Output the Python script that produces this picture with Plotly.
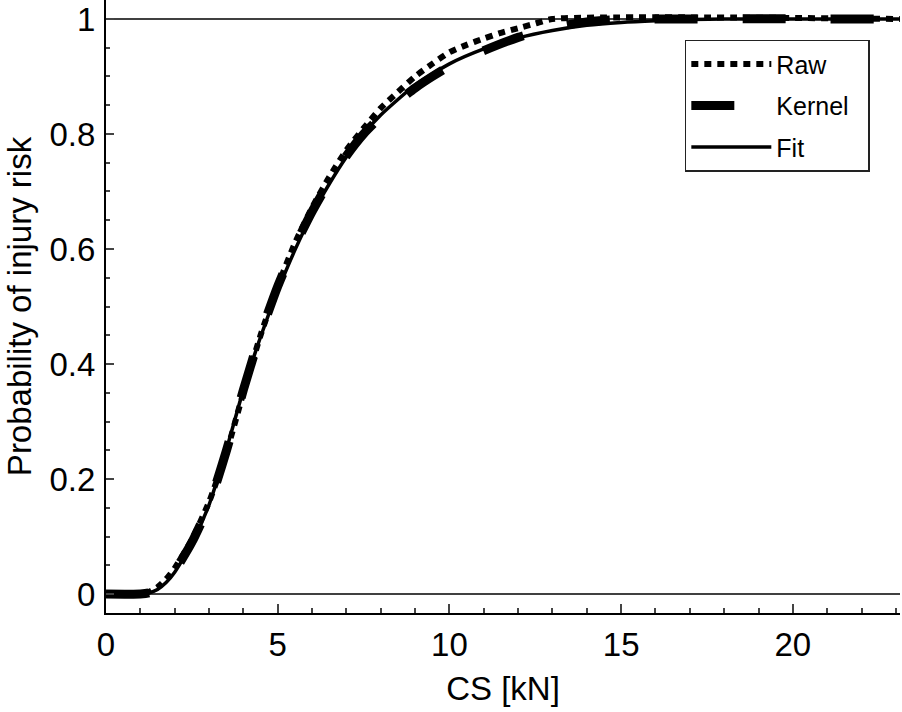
import plotly.graph_objects as go

# ---- data ----
fit_x = [0, 1.0, 1.25, 1.5, 1.75, 2.0, 2.5, 3.0, 3.5, 4.0, 4.5, 5.0, 5.5, 6.0, 6.5, 7.0, 7.5, 8.0,
         9.0, 10.0, 11.0, 12.0, 13.0, 14.0, 15.0, 16.0, 17.0, 18.0, 23.2]
fit_y = [0, 0, 0.002, 0.008, 0.02, 0.038, 0.088, 0.155, 0.25, 0.355, 0.447, 0.527, 0.598, 0.66,
         0.713, 0.76, 0.8, 0.833, 0.885, 0.922, 0.948, 0.967, 0.98, 0.989, 0.994, 0.997, 0.999,
         1.0, 1.0]

raw_x = [0, 1.0, 1.25, 1.5, 1.75, 2.0, 2.5, 3.0, 3.5, 4.0, 4.5, 5.0, 5.5, 6.0, 6.5, 7.0, 7.5, 8.0,
         8.5, 9.0, 9.5, 10.0, 10.5, 11.0, 11.5, 12.0, 12.5, 13.0, 23.2]
raw_y = [0, 0, 0.004, 0.012, 0.026, 0.045, 0.095, 0.16, 0.245, 0.35, 0.45, 0.535, 0.61, 0.672,
         0.725, 0.772, 0.81, 0.845, 0.873, 0.9, 0.922, 0.942, 0.955, 0.966, 0.976, 0.984, 0.992,
         1.0, 1.0]

kernel_x = [0, 1.0, 1.25, 1.5, 1.75, 2.0, 2.5, 3.0, 3.5, 4.0, 4.5, 5.0, 5.5, 6.0, 6.5, 7.0, 7.5,
            8.0, 8.5, 9.0, 9.5, 10.0, 11.0, 12.0, 13.0, 14.0, 15.0, 23.2]
kernel_y = [0, 0, 0.002, 0.008, 0.021, 0.04, 0.09, 0.155, 0.248, 0.355, 0.452, 0.535, 0.605,
            0.665, 0.717, 0.762, 0.8, 0.83, 0.857, 0.88, 0.9, 0.918, 0.945, 0.968, 0.985, 0.995,
            0.999, 1.0]

x_ticks = [0, 5, 10, 15, 20]
y_ticks = [0, 0.2, 0.4, 0.6, 0.8, 1]
y_ticktext = ["0", "0.2", "0.4", "0.6", "0.8", "1"]
series_names = ["Raw", "Kernel\u00a0\u00a0", "Fit"]

FONT = "Arial, Liberation Sans, sans-serif"

fig = go.Figure()
fig.add_trace(go.Scatter(x=kernel_x, y=kernel_y, mode="lines", name=series_names[1],
                         line=dict(color="black", width=9, dash="43px,45px",
                                   shape="spline", smoothing=0.6),
                         legendrank=2, legendgroup="k"))
fig.add_trace(go.Scatter(x=raw_x, y=raw_y, mode="lines", name=series_names[0],
                         line=dict(color="black", width=6, dash="7px,6px",
                                   shape="spline", smoothing=0.6),
                         legendrank=1, legendgroup="r"))
fig.add_trace(go.Scatter(x=fit_x, y=fit_y, mode="lines", name=series_names[2],
                         line=dict(color="black", width=3.5, shape="spline", smoothing=0.6),
                         legendrank=3, legendgroup="f"))

# reference lines at 0 and 1
for yv in (0, 1):
    fig.add_shape(type="line", xref="paper", yref="y", x0=0, x1=1, y0=yv, y1=yv,
                  line=dict(color="black", width=1.5), layer="below")

fig.update_layout(
    width=902, height=712,
    margin=dict(l=106, r=2, t=0, b=99),
    paper_bgcolor="white", plot_bgcolor="white",
    font=dict(family=FONT, size=33, color="black"),
    showlegend=True,
    legend=dict(x=0.962, y=0.935, xanchor="right", yanchor="top",
                bordercolor="#222", borderwidth=1.5, bgcolor="white",
                font=dict(size=25, family=FONT), itemwidth=80,
                tracegroupgap=6),
    xaxis=dict(range=[0, 23.12], tickvals=x_ticks, ticks="inside", ticklen=9, tickwidth=1.5,
               showline=True, linecolor="black", linewidth=2, showgrid=False, zeroline=False,
               minor=dict(dtick=1, ticks="inside", ticklen=5, tickwidth=1.5, showgrid=False),
               title=dict(text="CS [kN]", font=dict(size=33), standoff=15),
               tickfont=dict(size=33), ticklabelstandoff=1, automargin=False),
    yaxis=dict(range=[-0.033, 1.033], tickvals=y_ticks, ticktext=y_ticktext,
               ticks="inside", ticklen=8, tickwidth=1.5,
               showline=True, linecolor="black", linewidth=2, showgrid=False, zeroline=False,
               minor=dict(dtick=0.05, ticks="inside", ticklen=4, tickwidth=1.5, showgrid=False),
               title=dict(text="Probability of injury risk", font=dict(size=33), standoff=8),
               tickfont=dict(size=33), ticklabelstandoff=2, automargin=False),
)

fig.write_html("out.html", post_script="document.body.style.margin='0';",
               config={"displayModeBar": False})
